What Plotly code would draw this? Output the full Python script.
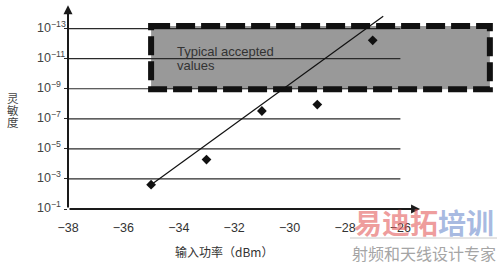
import plotly.graph_objects as go

# ---------------- data ----------------
power_dbm = [-35, -33, -31, -29, -27]                 # measured points
sens_exp = [-2.62, -4.29, -7.52, -7.95, -12.22]        # log10(sensitivity)
fit_x = [-35, -26.62]                                  # fitted line ends
fit_exp = [-2.62, -13.82]
box_x = [-35, -22.77]                                  # "typical accepted" band
box_exp = [-13.18, -8.96]
grid_exp = [-3, -5, -7, -9, -11, -13]
ytick_exp = [-1, -3, -5, -7, -9, -11, -13]
xtick_vals = [-38, -36, -34, -32, -30, -28, -26]
grid_end_x = -26.0
x_axis_tip = -25.29
y_axis_tip_exp = -14.55

# ---------------- layout geometry (pixels) ----------------
W, H = 500, 266
L, R, T, B = 68, 497, 2, 209
PXX = 27.7      # px per dBm
PXY = 15.03     # px per decade


def px_to_paper_x(px):
    return (px - L) / (R - L)


def px_to_paper_y(py):
    return (B - py) / (B - T)


x_range = [-38, -38 + (R - L) / PXX]
y_range = [-1, -1 - (B - T) / PXY]

fig = go.Figure()

fig.add_trace(go.Scatter(
    x=fit_x, y=[10 ** e for e in fit_exp], mode="lines",
    line=dict(color="#111111", width=1.2), hoverinfo="skip", showlegend=False))
fig.add_trace(go.Scatter(
    x=power_dbm, y=[10 ** e for e in sens_exp], mode="markers",
    marker=dict(symbol="diamond", size=7.5, color="#111111"),
    showlegend=False))

shapes = []
# band fill
shapes.append(dict(type="rect", xref="x", yref="y",
                   x0=box_x[0], x1=box_x[1],
                   y0=10 ** box_exp[0], y1=10 ** box_exp[1],
                   fillcolor="#999999", line=dict(width=0), layer="below"))
# grid lines
for e in grid_exp:
    shapes.append(dict(type="line", xref="x", yref="y",
                       x0=x_range[0], x1=grid_end_x, y0=10 ** e, y1=10 ** e,
                       line=dict(color="#2a2a2a", width=1.2), layer="below"))
# dashed band border
shapes.append(dict(type="rect", xref="x", yref="y",
                   x0=box_x[0], x1=box_x[1],
                   y0=10 ** box_exp[0], y1=10 ** box_exp[1],
                   fillcolor="rgba(0,0,0,0)",
                   line=dict(color="#111111", width=6, dash="19px,6px"),
                   layer="below"))
# watermark separator line
shapes.append(dict(type="line", xref="paper", yref="paper",
                   x0=px_to_paper_x(350), x1=px_to_paper_x(497),
                   y0=px_to_paper_y(238), y1=px_to_paper_y(238),
                   line=dict(color="#c8c8c8", width=1)))

ann = []
# axis arrows
ann.append(dict(x=x_axis_tip, y=-1, ax=-38, ay=-1, xref="x", yref="y",
                axref="x", ayref="y", showarrow=True, arrowhead=2,
                arrowsize=0.9, arrowwidth=2, arrowcolor="#1a1a1a", text=""))
ann.append(dict(x=-38, y=y_axis_tip_exp, ax=-38, ay=-1, xref="x", yref="y",
                axref="x", ayref="y", showarrow=True, arrowhead=2,
                arrowsize=0.9, arrowwidth=2, arrowcolor="#1a1a1a", text=""))
# y tick labels (left aligned)
for e in ytick_exp:
    ann.append(dict(x=px_to_paper_x(35), y=e, xref="paper", yref="y",
                    xanchor="left", yanchor="middle", showarrow=False,
                    yshift=2,
                    text=f"10<sup>\u2212{abs(e)}</sup>",
                    font=dict(family="Liberation Sans", size=12.5, color="#444444")))
# y axis title (stacked characters)
for ch, py in zip("灵敏度", [98.3, 110, 121.7]):
    ann.append(dict(x=px_to_paper_x(13.3), y=px_to_paper_y(py), xref="paper",
                    yref="paper", xanchor="center", yanchor="middle",
                    showarrow=False, text=ch,
                    font=dict(family="Noto Sans CJK SC", size=11.5, color="#444444")))
# x axis title
ann.append(dict(x=px_to_paper_x(224), y=px_to_paper_y(251.7), xref="paper",
                yref="paper", xanchor="center", yanchor="middle",
                showarrow=False, text="输入功率（dBm）",
                font=dict(family="Noto Sans CJK SC", size=12, color="#333333")))
# band text
ann.append(dict(x=-34.12, y=-11.45, xref="x", yref="y", xanchor="left",
                yanchor="middle", showarrow=False, text="Typical accepted",
                font=dict(family="Liberation Sans", size=13, color="#333333")))
ann.append(dict(x=-34.12, y=-10.56, xref="x", yref="y", xanchor="left",
                yanchor="middle", showarrow=False, text="values",
                font=dict(family="Liberation Sans", size=13, color="#333333")))
# watermark
ann.append(dict(x=px_to_paper_x(423.5), y=px_to_paper_y(222), xref="paper",
                yref="paper", xanchor="center", yanchor="middle", showarrow=False,
                text='<b><span style="color:rgba(228,90,90,0.6)">易迪拓</span>'
                     '<span style="color:rgba(110,140,205,0.6)">培训</span></b>',
                font=dict(family="Noto Sans CJK SC", size=28)))
ann.append(dict(x=px_to_paper_x(423.5), y=px_to_paper_y(253), xref="paper",
                yref="paper", xanchor="center", yanchor="middle", showarrow=False,
                text="射频和天线设计专家",
                font=dict(family="Noto Sans CJK SC", size=16, color="#a5a5a5")))

fig.update_layout(
    width=W, height=H,
    margin=dict(l=L, r=W - R, t=T, b=H - B, pad=0),
    paper_bgcolor="white", plot_bgcolor="white",
    shapes=shapes, annotations=ann, showlegend=False,
    xaxis=dict(range=x_range, showgrid=False, zeroline=False, showline=False,
               tickvals=xtick_vals, ticks="", ticklabelstandoff=9,
               tickfont=dict(family="Liberation Sans", size=12.5, color="#333333")),
    yaxis=dict(type="log", range=y_range, showgrid=False, zeroline=False,
               showline=False, tickvals=[10 ** e for e in ytick_exp],
               ticks="outside", ticklen=3, tickwidth=1.2, tickcolor="#2a2a2a",
               showticklabels=False),
)

fig.write_html("out.html")
